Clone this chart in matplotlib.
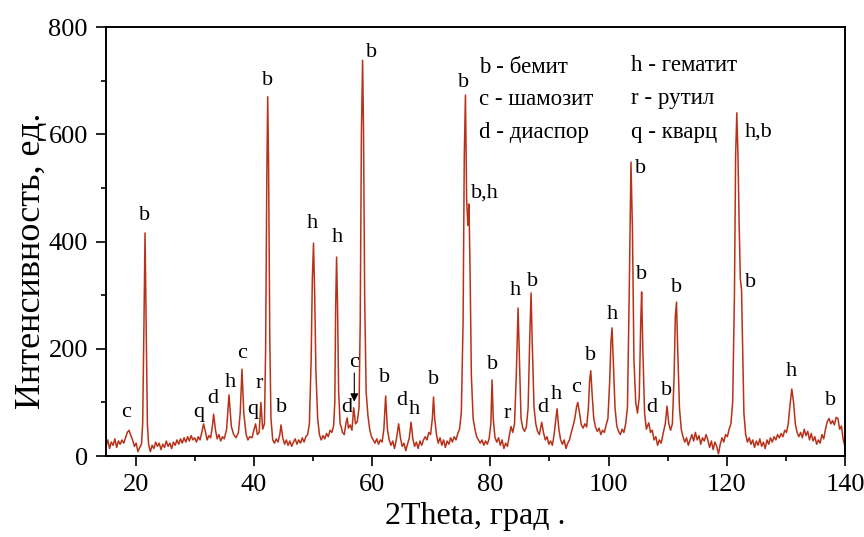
import matplotlib; matplotlib.use("Agg"); import matplotlib.pyplot as plt
from matplotlib.ticker import MultipleLocator

plt.rcParams['font.family'] = ['Liberation Serif', 'DejaVu Serif']

scan_15_30 = [(15.0,18),(15.3,30),(15.6,14),(15.9,26),(16.2,20),(16.5,32),(16.8,16),(17.1,28),(17.4,22),(17.7,30),
    (18.0,24),(18.3,34),(18.6,44),(18.9,48),(19.2,38),(19.5,30),(19.8,18),(20.1,24),(20.4,8),(20.7,16),(21.0,22),
    (21.2,60),(21.4,230),(21.6,416),(21.8,240),(22.0,60),(22.2,22),(22.5,8),(22.8,20),(23.1,14),(23.4,26),(23.7,18),
    (24.0,24),(24.3,12),(24.6,22),(24.9,16),(25.2,28),(25.5,18),(25.8,24),(26.1,14),(26.4,26),(26.7,20),(27.0,30),
    (27.3,22),(27.6,32),(27.9,24),(28.2,34),(28.5,26),(28.8,36),(29.1,28),(29.4,38),(29.7,30),(30.0,34)]
scan_30_45 = [(30.3,26),(30.6,36),(30.9,30),(31.2,44),(31.5,60),(31.8,46),(32.1,30),(32.4,38),(32.7,34),(33.0,56),
    (33.2,78),(33.5,50),(33.8,32),(34.1,40),(34.4,28),(34.7,36),(35.0,32),(35.4,50),(35.8,114),(36.2,55),(36.6,40),
    (37.0,34),(37.4,44),(37.7,80),(38.0,162),(38.3,80),(38.7,40),(39.0,30),(39.3,36),(39.7,34),(40.0,48),(40.3,60),
    (40.6,40),(40.9,44),(41.2,100),(41.5,50),(41.8,60),(42.0,200),(42.2,520),(42.35,670),(42.5,540),(42.7,220),
    (42.9,70),(43.2,30),(43.5,24),(43.8,32),(44.1,26),(44.4,40),(44.6,58),(44.9,34),(45.2,22)]
scan_45_60 = [(45.5,30),(45.8,20),(46.1,28),(46.4,18),(46.7,26),(47.0,32),(47.3,22),(47.6,30),(47.9,24),(48.2,34),
    (48.5,26),(48.8,36),(49.1,40),(49.4,60),(49.7,180),(49.9,330),(50.1,397),(50.3,300),(50.5,160),(50.8,70),
    (51.1,40),(51.4,30),(51.7,38),(52.0,32),(52.3,42),(52.6,36),(52.9,48),(53.2,44),(53.5,56),(53.7,100),(53.85,280),
    (54.0,371),(54.15,290),(54.35,120),(54.6,60),(54.8,54),(55.0,44),(55.3,40),(55.6,62),(55.8,71),(56.0,52),
    (56.3,58),(56.6,48),(56.9,90),(57.2,60),(57.5,64),(57.8,90),(58.0,250),(58.2,600),(58.4,738),(58.55,620),
    (58.75,300),(59.0,120),(59.3,76),(59.6,50),(59.9,36),(60.2,30)]
scan_60_81 = [(60.5,24),(60.8,32),(61.1,22),(61.4,30),(61.7,26),(62.0,50),(62.3,112),(62.6,50),(62.9,30),(63.2,20),
    (63.5,28),(63.8,14),(64.1,30),(64.5,60),(64.8,34),(65.1,18),(65.4,24),(65.7,10),(66.0,22),(66.3,34),(66.6,63),
    (66.9,32),(67.2,18),(67.5,26),(67.8,14),(68.1,28),(68.4,20),(68.7,30),(69.0,36),(69.3,30),(69.6,44),(69.9,40),
    (70.2,70),(70.4,110),(70.6,70),(70.9,40),(71.2,24),(71.5,34),(71.8,20),(72.1,30),(72.4,16),(72.7,28),(73.0,22),
    (73.3,34),(73.6,26),(73.9,36),(74.2,30),(74.5,42),(74.8,50),(75.1,80),(75.4,250),(75.6,560),(75.8,673),
    (76.0,480),(76.2,430),(76.4,470),(76.6,330),(76.8,150),(77.1,70),(77.4,50),(77.7,36),(78.0,30),(78.3,24),
    (78.6,30),(78.9,20),(79.2,28),(79.5,22),(79.8,32),(80.1,60),(80.3,142),(80.5,70),(80.8,34)]
scan_81_102 = [(81.1,26),(81.4,34),(81.7,20),(82.0,30),(82.3,14),(82.6,24),(82.9,18),(83.2,36),(83.5,55),(83.8,44),
    (84.1,60),(84.4,150),(84.7,276),(84.95,170),(85.2,70),(85.5,52),(85.8,46),(86.1,54),(86.4,90),(86.7,230),
    (86.9,304),(87.1,210),(87.4,90),(87.7,60),(88.0,46),(88.3,40),(88.7,63),(89.0,44),(89.3,30),(89.6,36),(89.9,22),
    (90.2,28),(90.5,20),(90.8,40),(91.1,70),(91.3,88),(91.6,50),(91.9,30),(92.2,22),(92.5,30),(92.8,14),(93.1,24),
    (93.4,30),(93.7,44),(94.0,56),(94.3,70),(94.6,92),(94.8,100),(95.1,80),(95.4,58),(95.7,52),(96.0,60),(96.3,54),
    (96.6,90),(96.8,140),(97.0,159),(97.2,120),(97.5,70),(97.8,54),(98.1,46),(98.4,52),(98.7,40),(99.0,48),
    (99.3,44),(99.6,58),(99.9,70),(100.2,140),(100.4,210),(100.6,239),(100.8,180),(101.1,90),(101.4,56),(101.7,46)]
scan_102_124 = [(102.0,40),(102.3,50),(102.6,44),(102.9,60),(103.2,90),(103.5,300),(103.8,548),(104.05,420),
    (104.3,180),(104.6,100),(104.9,80),(105.2,110),(105.45,250),(105.6,306),(105.8,200),(106.1,80),(106.4,50),
    (106.8,62),(107.1,44),(107.4,48),(107.7,30),(108.0,36),(108.3,20),(108.6,30),(108.9,24),(109.2,40),(109.6,60),
    (109.9,93),(110.2,60),(110.5,48),(110.8,60),(111.1,150),(111.3,260),(111.5,287),(111.7,200),(112.0,90),
    (112.3,50),(112.6,36),(112.9,26),(113.2,34),(113.5,20),(113.8,30),(114.1,40),(114.4,28),(114.7,44),(115.0,30),
    (115.3,38),(115.6,22),(115.9,34),(116.2,28),(116.5,40),(116.8,30),(117.1,16),(117.4,28),(117.7,12),(118.0,26),
    (118.3,18),(118.6,4),(118.9,22),(119.2,34),(119.5,26),(119.8,40),(120.1,36),(120.4,50),(120.7,60),(121.0,100),
    (121.3,300),(121.5,560),(121.7,640),(121.9,560),(122.1,430),(122.3,330),(122.5,310),(122.7,200),(122.9,80),
    (123.2,40),(123.5,26)]
scan_124_140 = [(123.8,34),(124.1,22),(124.4,30),(124.7,16),(125.0,28),(125.3,20),(125.6,32),(125.9,18),(126.2,26),
    (126.5,14),(126.8,30),(127.1,22),(127.4,34),(127.7,26),(128.0,36),(128.3,30),(128.6,40),(128.9,34),(129.2,42),
    (129.5,36),(129.8,48),(130.1,44),(130.4,60),(130.7,95),(131.0,125),(131.3,100),(131.6,60),(131.9,44),(132.2,36),
    (132.5,44),(132.8,34),(133.1,50),(133.4,38),(133.7,46),(134.0,30),(134.3,42),(134.6,28),(134.9,36),(135.2,22),
    (135.5,30),(135.8,24),(136.1,40),(136.4,32),(136.7,50),(137.0,64),(137.3,70),(137.6,60),(137.9,66),(138.2,58),
    (138.5,72),(138.8,70),(139.1,50),(139.4,56),(139.7,30),(140.0,18)]

# phase marks: letter, 2theta, counts where the letter sits
phase_marks = [('c',18.4,82),('b',21.6,449),('q',30.7,82),('d',33.1,108),('h',36.1,138),('c',38.0,192),
    ('q',39.8,86),('r',41.0,136),('b',42.3,701),('b',44.7,90),('h',49.9,434),('h',54.2,407),('b',59.9,752),
    ('d',55.7,90),('c',57.0,175),('b',62.1,147),('d',65.0,104),('h',67.2,86),('b',70.4,142),('b',75.4,696),
    ('b,h',79.0,490),('b',80.3,170),('r',82.8,80),('h',84.3,308),('b',87.2,326),('d',88.8,90),('h',91.1,114),
    ('c',94.5,127),('b',97.0,188),('h',100.6,263),('d',107.3,90),('b',109.9,123),('b',105.5,537),('b',105.6,338),
    ('b',111.5,315),('h,b',125.4,604),('b',124.0,323),('h',131.0,157),('b',137.5,104)]
legend_left = ['b - бемит', 'c - шамозит', 'd - диаспор']
legend_right = ['h - гематит', 'r - рутил', 'q - кварц']

pts = scan_15_30 + scan_30_45 + scan_45_60 + scan_60_81 + scan_81_102 + scan_102_124 + scan_124_140
tt = [p[0] for p in pts]; cnt = [p[1] for p in pts]

fig = plt.figure(figsize=(8.64, 5.37), dpi=100)
ax = fig.add_axes([0.1227, 0.1508, 0.8553, 0.7989])
ax.plot(tt, cnt, color='#b8321a', lw=1.1)

for lab, x, y in phase_marks:
    ax.text(x, y, lab, ha='center', va='center', fontsize=16)
ax.annotate('', xy=(57.0, 96), xytext=(57.0, 160),
            arrowprops=dict(arrowstyle='-|>', color='k', lw=0.8, mutation_scale=12))

for i, s in enumerate(legend_left):
    ax.text(78.1, 725 - i*61, s, ha='left', va='center', fontsize=16.5)
for i, s in enumerate(legend_right):
    ax.text(103.8, 729 - i*63, s, ha='left', va='center', fontsize=16.5)

ax.set_xlim(15, 140); ax.set_ylim(0, 800)
ax.xaxis.set_major_locator(MultipleLocator(20)); ax.xaxis.set_minor_locator(MultipleLocator(10))
ax.yaxis.set_major_locator(MultipleLocator(200)); ax.yaxis.set_minor_locator(MultipleLocator(100))
ax.tick_params(which='major', direction='out', length=7, width=1.2, labelsize=19, pad=6)
ax.tick_params(which='minor', direction='out', length=3.5, width=1.2)
for sp in ax.spines.values(): sp.set_linewidth(1.4)
ax.set_xlabel('2Theta, град .', fontsize=23)
ax.set_ylabel('Интенсивность, ед.', fontsize=26)
ax.xaxis.set_label_coords(0.5, -0.108)
ax.yaxis.set_label_coords(-0.078, 0.455)

fig.savefig('out.png', dpi=100, facecolor='white')
